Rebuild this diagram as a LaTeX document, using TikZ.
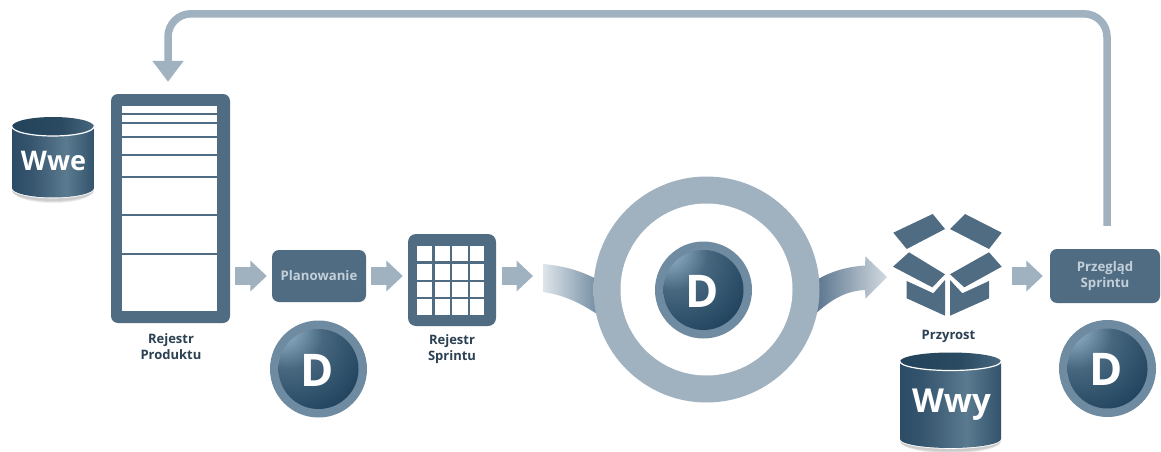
\documentclass[tikz,border=0pt]{standalone}
\usepackage{fontspec}
\setmainfont{Open Sans}
\usetikzlibrary{arrows.meta,calc}
\definecolor{boxc}{HTML}{506C82}
\definecolor{arrowc}{HTML}{A0B2C0}
\definecolor{labelc}{HTML}{2B4052}
\definecolor{boxtext}{HTML}{C3D0DA}
\definecolor{ballrim}{HTML}{6E8BA1}
\definecolor{cyA}{HTML}{2B4B64}\definecolor{cyB}{HTML}{1F4059}\definecolor{cyC}{HTML}{34536C}
\definecolor{cyD}{HTML}{5A7A90}\definecolor{cyE}{HTML}{2B4C65}\definecolor{cyF}{HTML}{1B3C56}
\definecolor{ctA}{HTML}{1D3D56}\definecolor{ctB}{HTML}{2A4A62}\definecolor{ctC}{HTML}{56768C}\definecolor{ctD}{HTML}{3A5A72}
\definecolor{baA}{HTML}{A4C2D6}\definecolor{baB}{HTML}{84A4BB}\definecolor{baC}{HTML}{47677F}\definecolor{baD}{HTML}{244660}\definecolor{baE}{HTML}{0D2C45}
\definecolor{riA}{HTML}{A0B2C0}\definecolor{riB}{HTML}{859CAE}\definecolor{riC}{HTML}{8EA4B4}\definecolor{riD}{HTML}{A2B4C2}
\definecolor{bandInA}{HTML}{DFE5EA}\definecolor{bandIn}{HTML}{6F8AA0}\definecolor{bandOutA}{HTML}{54708A}\definecolor{bandOutB}{HTML}{D2DAE0}
\pgfdeclarehorizontalshading{cylbody}{100bp}{color(0bp)=(cyA);color(8bp)=(cyB);color(35bp)=(cyC);color(58bp)=(cyD);color(78bp)=(cyE);color(100bp)=(cyF)}
\pgfdeclarehorizontalshading{cyltop}{100bp}{color(0bp)=(ctA);color(55bp)=(ctB);color(85bp)=(ctC);color(100bp)=(ctD)}
\pgfdeclareradialshading{ballshade}{\pgfpoint{-25bp}{28bp}}{color(0bp)=(baA);color(8bp)=(baB);color(22bp)=(baC);color(44bp)=(baD);color(66bp)=(baE);color(100bp)=(baE)}
\pgfdeclareradialshading{ringshade}{\pgfpoint{0bp}{0bp}}{color(0bp)=(riA);color(38bp)=(riA);color(43bp)=(riB);color(47bp)=(riC);color(50bp)=(riD);color(100bp)=(riD)}
\tikzset{
  boxnode/.style={fill=boxc,rounded corners=7pt,inner sep=0pt,align=center,text=boxtext,font=\bfseries\fontsize{13.2}{16}\selectfont},
  caption/.style={inner sep=0pt,align=center,text=labelc,font=\bfseries\fontsize{13}{15.5}\selectfont},
  blockarrow/.style={arrowc,line width=18pt,-{Triangle[width=30pt,length=16.5pt]}},
  feedback/.style={arrowc,line width=7.5pt,rounded corners=23pt,-{Triangle[width=30pt,length=21pt]}},
  boxpiece/.style={fill=boxc,draw=none},
  cylabel/.style={inner sep=0pt,text=white,font=\bfseries}
}
% cx, top ellipse cy, bottom ellipse cy, rx, ry
\newcommand{\mycyl}[5]{%
  \foreach \w in {7,5,3}{
    \fill[black,opacity=.07,line join=round] ({#1-#4},{#2}) -- ({#1-#4},{#3+2}) arc[start angle=180,end angle=0,x radius=#4,y radius=#5+\w/2] -- ({#1+#4},{#2}) -- cycle;
  }
  \draw[white,line width=1.6pt] ({#1-#4},{#2}) -- ({#1-#4},{#3}) arc[start angle=180,end angle=0,x radius=#4,y radius=#5] -- ({#1+#4},{#2}) arc[start angle=0,end angle=-180,x radius=#4,y radius=#5] -- cycle;
  \shade[shading=cylbody] ({#1-#4},{#2}) -- ({#1-#4},{#3}) arc[start angle=180,end angle=0,x radius=#4,y radius=#5] -- ({#1+#4},{#2}) arc[start angle=0,end angle=180,x radius=#4,y radius=#5] -- cycle;
  \shade[shading=cyltop] (#1,#2) ellipse[x radius=#4,y radius=#5];
  \draw[white,line width=1.2pt] ({#1-#4},{#2}) arc[start angle=180,end angle=0,x radius=#4,y radius=#5];
}
% ball: name, cx, cy
\newcommand{\myball}[3]{%
  \fill[ballrim] (#2,#3) circle[radius=48.5];
  \shade[shading=ballshade] (#2,#3) circle[radius=40];
  \node[inner sep=0pt,text=white,font=\bfseries\fontsize{45}{45}\selectfont] (#1) at ({#2-1},{#3+1}) {D};
}
\begin{document}
\begin{tikzpicture}[x=1pt,y=-1pt]
\useasboundingbox (0,0) rectangle (1161,452);
\fill[white] (0,0) rectangle (1161,452);

% Named blocks
\node[boxnode,minimum width=119pt,minimum height=229pt] (bl) at (170.5,208.5) {};
\node[boxnode,minimum width=94pt,minimum height=52pt] (plan) at (319,276) {Planowanie};
\node[boxnode,rounded corners=8pt,minimum width=88pt,minimum height=92pt] (sb) at (452,280) {};
\node[boxnode,minimum width=110pt,minimum height=54pt] (rev) at (1105,276) {Przegląd\\Sprintu};
\coordinate (inc) at (947.5,265);
\coordinate (incE) at (1002,276);
\coordinate (bandin) at (543,276);

% Product backlog contents
\fill[white] (122,106) rectangle (217,311);
\foreach \y in {113.5,122.5,136.5,155,177,215,254}{
  \draw[boxc,line width=2pt] (122,\y) -- (217,\y);
}
\node[caption] (blcap) at (171,346.5) {Rejestr\\Produktu};

% Sprint backlog grid
\fill[white] (417,246) rectangle (484,315);
\foreach \x in {433.5,451,469}{\draw[boxc,line width=2.2pt] (\x,246) -- (\x,315);}
\foreach \y in {262.5,281,298}{\draw[boxc,line width=2.2pt] (417,\y) -- (484,\y);}
\node[caption] (sbcap) at (452,349) {Rejestr\\Sprintu};

% Feedback arrow
\draw[feedback,shorten <=23pt,shorten >=12pt] ($(rev.north)+(2,0)$) -- ($(rev.north)+(2,-235)$) -- ($(bl.north)+(-2.5,-80)$) -- ($(bl.north)+(-2.5,0)$);

% Block arrows
\draw[blockarrow,shorten <=5pt,shorten >=5pt] (bl.east |- plan.west) -- (plan.west);
\draw[blockarrow,shorten <=5pt,shorten >=5pt] (plan.east) -- (sb.west |- plan.east);
\draw[blockarrow,shorten <=6pt,shorten >=10pt] (sb.east |- plan.east) -- (bandin);
\draw[blockarrow,shorten <=10pt,shorten >=7pt] (incE) -- (rev.west);

% Sweep into the ring
\shade[left color=bandInA,right color=bandIn] (543,264) .. controls (565,266) and (582,271) .. (600,281) -- (600,316) .. controls (582,304) and (565,295) .. (543,292) -- cycle;
% Sweep out of the ring with its head
\shade[left color=bandOutA,right color=bandOutB] (812,283) .. controls (828,272) and (845,267) .. (865,265.5) -- (865.5,256.5) -- (887,277) -- (865.5,298.5) -- (865,290) .. controls (845,291) and (830,300) .. (812,317) -- cycle;

% Ring
\shade[shading=ringshade] (706.5,289.5) circle[radius=113];
\fill[white] (706.5,289.5) circle[radius=86];
\node[inner sep=0pt,minimum size=226pt,circle] (ring) at (706.5,289.5) {};

% Opened box
\fill[boxpiece] (893.3,232.7) -- (932.7,214) -- (945,229) -- (906.7,249) -- cycle;
\fill[boxpiece] (950,229) -- (965,214) -- (1001.7,232.7) -- (989,249) -- cycle;
\fill[boxpiece] (893,266.7) -- (909,252.3) -- (945,274.3) -- (932.3,287.3) -- cycle;
\fill[boxpiece] (950,274.3) -- (989,252.3) -- (1001.7,266.7) -- (964.3,287.3) -- cycle;
\fill[boxpiece] (906.7,281) -- (933.3,293.3) -- (945,280) -- (945,315.7) -- (906.7,298.3) -- cycle;
\fill[boxpiece] (950,280) -- (962.3,293.3) -- (989,281) -- (989,298.3) -- (950,315.7) -- cycle;
\node[caption] (inccap) at (948.5,336) {Przyrost};

% Cylinders
\mycyl{53}{126.5}{188}{41}{9.5}
\node[cylabel,font=\bfseries\fontsize{27}{27}\selectfont] (wwe) at (53.5,161) {Wwe};
\mycyl{950.5}{361.5}{439}{50.5}{9}
\node[cylabel,font=\bfseries\fontsize{33}{33}\selectfont] (wwy) at (951.5,405) {Wwy};

% Balls
\myball{d1}{318.5}{369}
\myball{d2}{703.5}{290}
\myball{d3}{1107.5}{368.5}
\end{tikzpicture}
\end{document}
